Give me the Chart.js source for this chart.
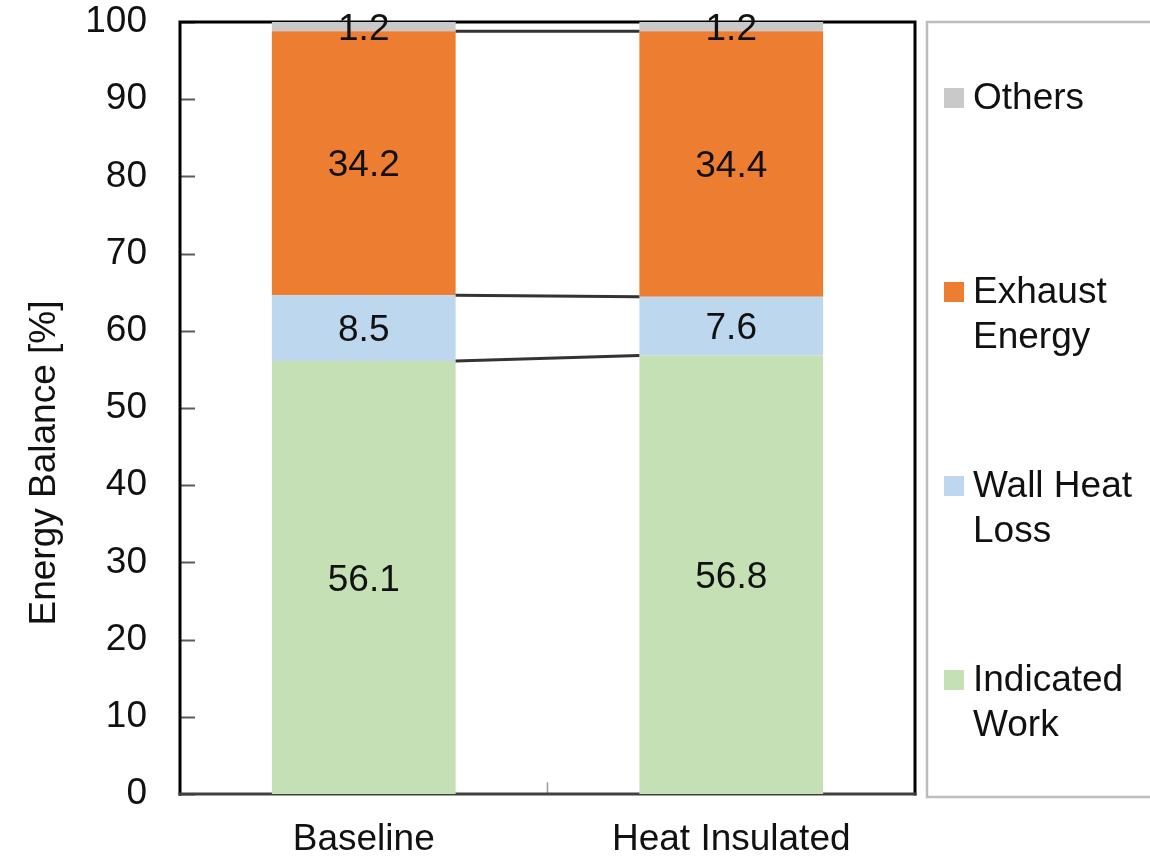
<!DOCTYPE html>
<html>
<head>
<meta charset="utf-8">
<title>Energy Balance</title>
<script src="https://cdn.jsdelivr.net/npm/chart.js@4.4.1/dist/chart.umd.min.js"></script>
<style>
  html, body { margin: 0; padding: 0; background: #ffffff; }
  #wrap { width: 1150px; height: 859px; }
</style>
</head>
<body>
<div id="wrap"><canvas id="chart" width="1150" height="859"></canvas></div>
<script>
// Energy balance of the two engine configurations, in percent of fuel energy
const categories = ['Baseline', 'Heat Insulated'];
const indicatedWork = [56.1, 56.8];
const wallHeatLoss = [8.5, 7.6];
const exhaustEnergy = [34.2, 34.4];
const others = [1.2, 1.2];

const seriesNames = ['Indicated Work', 'Wall Heat Loss', 'Exhaust Energy', 'Others'];
const legendLines = [['Indicated', 'Work'], ['Wall Heat', 'Loss'], ['Exhaust', 'Energy'], ['Others']];
const seriesColors = ['#c5e0b4', '#bdd7ee', '#ed7d31', '#c9c9c9'];
const yAxisTitle = 'Energy Balance [%]';

const FONT = "'Liberation Sans', Arial, sans-serif";
const FONT_SIZE = 37;
const TEXT = '#111111';

// Plot frame, inward tick marks and the category divider tick
const framePlugin = {
  id: 'frame',
  beforeDatasetsDraw(chart) {
    const { ctx, chartArea: a, scales } = chart;
    ctx.save();
    ctx.lineCap = 'square';
    // inward y ticks
    ctx.strokeStyle = '#5a5a5a';
    ctx.lineWidth = 2;
    scales.y.ticks.forEach(t => {
      const py = Math.round(scales.y.getPixelForValue(t.value)) + 0.5;
      ctx.beginPath();
      ctx.moveTo(a.left, py);
      ctx.lineTo(a.left + 14, py);
      ctx.stroke();
    });
    // divider tick between the two categories
    const mid = (scales.x.getPixelForValue(0) + scales.x.getPixelForValue(1)) / 2;
    ctx.strokeStyle = '#9a9a9a';
    ctx.lineWidth = 1.5;
    ctx.beginPath();
    ctx.moveTo(mid, a.bottom);
    ctx.lineTo(mid, a.bottom - 11);
    ctx.stroke();
    // box
    ctx.lineWidth = 3;
    ctx.strokeStyle = '#000000';
    ctx.beginPath();
    ctx.moveTo(a.left, a.bottom);
    ctx.lineTo(a.left, a.top);
    ctx.lineTo(a.right, a.top);
    ctx.lineTo(a.right, a.bottom);
    ctx.stroke();
    ctx.strokeStyle = '#404040';
    ctx.beginPath();
    ctx.moveTo(a.left, a.bottom);
    ctx.lineTo(a.right, a.bottom);
    ctx.stroke();
    ctx.restore();
  }
};

// Series lines, value labels, legend and axis title
const decorPlugin = {
  id: 'decor',
  afterDatasetsDraw(chart) {
    const { ctx, chartArea: a } = chart;
    const n = chart.data.datasets.length;
    ctx.save();

    // series lines joining the top of each segment between the bars
    ctx.strokeStyle = '#333333';
    ctx.lineWidth = 3;
    for (let d = 0; d < n - 1; d++) {
      const bars = chart.getDatasetMeta(d).data;
      const b0 = bars[0], b1 = bars[1];
      ctx.beginPath();
      ctx.moveTo(b0.x + b0.width / 2, b0.y);
      ctx.lineTo(b1.x - b1.width / 2, b1.y);
      ctx.stroke();
    }

    // value labels centred in each segment
    ctx.fillStyle = TEXT;
    ctx.font = FONT_SIZE + 'px ' + FONT;
    ctx.textAlign = 'center';
    ctx.textBaseline = 'middle';
    for (let d = 0; d < n; d++) {
      const ds = chart.data.datasets[d];
      chart.getDatasetMeta(d).data.forEach((bar, i) => {
        ctx.fillText(ds.data[i].toFixed(1), bar.x, (bar.y + bar.base) / 2 + 3);
      });
    }

    // y axis title
    ctx.save();
    ctx.translate(45, 463);
    ctx.rotate(-Math.PI / 2);
    ctx.fillText(yAxisTitle, 0, 0);
    ctx.restore();

    // legend box
    const boxLeft = a.right + 12;
    ctx.strokeStyle = '#bdbdbd';
    ctx.lineWidth = 2.5;
    ctx.strokeRect(boxLeft, a.top, 300, a.bottom - a.top + 3);

    // legend entries, top entry is the last stacked series
    ctx.textAlign = 'left';
    const firstY = 98, step = 194, lineGap = 45;
    for (let k = 0; k < n; k++) {
      const d = n - 1 - k;
      const cy = firstY + step * k;
      ctx.fillStyle = chart.data.datasets[d].backgroundColor;
      ctx.fillRect(boxLeft + 17, cy - 10, 20, 20);
      ctx.fillStyle = TEXT;
      legendLines[d].forEach((line, j) => {
        ctx.fillText(line, boxLeft + 46, cy + j * lineGap + 1);
      });
    }
    ctx.restore();
  }
};

const seriesData = [indicatedWork, wallHeatLoss, exhaustEnergy, others];

new Chart(document.getElementById('chart'), {
  type: 'bar',
  data: {
    labels: categories,
    datasets: seriesNames.map((name, i) => ({
      label: name,
      data: seriesData[i],
      backgroundColor: seriesColors[i],
      borderWidth: 0,
      categoryPercentage: 1,
      barPercentage: 0.5
    }))
  },
  options: {
    responsive: false,
    animation: false,
    devicePixelRatio: 1,
    layout: { padding: { left: 0, right: 235, top: 22, bottom: 0 } },
    plugins: { legend: { display: false }, tooltip: { enabled: false } },
    scales: {
      x: {
        stacked: true,
        grid: { display: false, drawTicks: false },
        border: { display: false },
        ticks: { color: TEXT, font: { family: FONT, size: FONT_SIZE }, padding: 24 },
        afterFit(scale) {
          scale.paddingLeft = 0;
          scale.paddingRight = 0;
          scale.height = 65;
        }
      },
      y: {
        stacked: true,
        min: 0,
        max: 100,
        grid: { display: false, drawTicks: false },
        border: { display: false },
        ticks: { stepSize: 10, color: TEXT, font: { family: FONT, size: FONT_SIZE }, padding: 33 },
        afterFit(scale) {
          scale.paddingTop = 0;
          scale.paddingBottom = 0;
          scale.width = 180;
        }
      }
    }
  },
  plugins: [framePlugin, decorPlugin]
});
</script>
</body>
</html>
